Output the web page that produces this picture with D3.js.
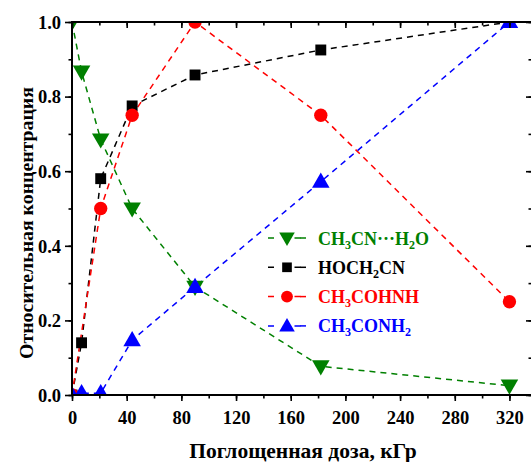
<!DOCTYPE html>
<html><head><meta charset="utf-8">
<script src="https://cdn.jsdelivr.net/npm/d3@7"></script>
<style>body{margin:0;background:#fff}svg{display:block}text{font-family:"Liberation Serif","Times New Roman",serif;font-weight:bold}</style>
</head><body><svg id="c" width="531" height="462"></svg>
<script>
const doses = [0, 7, 21, 44, 90, 182, 320];
const waterComplex = [1.0, 0.867, 0.685, 0.50, 0.29, 0.077, 0.025];
const hydroxyAcetonitrile = [0.0, 0.14, 0.58, 0.775, 0.858, 0.925, 1.0];
const iminol = [0.0, null, 0.50, 0.75, 1.0, 0.75, 0.25];
const acetamide = [0.0, 0.005, 0.005, 0.147, 0.29, 0.572, 1.0];
const xTicks = [0, 40, 80, 120, 160, 200, 240, 280, 320];
const yTicks = [0.0, 0.2, 0.4, 0.6, 0.8, 1.0];

const series = [
  {name: [["CH"],["3","sub"],["CN···H"],["2","sub"],["O"]], values: waterComplex, color: "#008000", shape: "tri-down"},
  {name: [["HOCH"],["2","sub"],["CN"]], values: hydroxyAcetonitrile, color: "#000000", shape: "square"},
  {name: [["CH"],["3","sub"],["COHNH"]], values: iminol, color: "#ff0000", shape: "circle"},
  {name: [["CH"],["3","sub"],["CONH"],["2","sub"]], values: acetamide, color: "#0000ff", shape: "tri-up"}
];

const L = 72, R = 532, T = 22, B = 395;
const svg = d3.select("#c");
const x = d3.scaleLinear().domain([0, 336.5]).range([L, R]);
const y = d3.scaleLinear().domain([0, 1]).range([B, T]);

svg.append("defs").append("clipPath").attr("id","clip")
  .append("rect").attr("x", L).attr("y", T).attr("width", R - L).attr("height", B - T);

function symbolFor(shape, size) {
  if (shape === "square") return d3.symbol().type(d3.symbolSquare).size(size * 0.85)();
  if (shape === "circle") return d3.symbol().type(d3.symbolCircle).size(size)();
  return d3.symbol().type(d3.symbolTriangle).size(size * 0.95)();
}

const plot = svg.append("g").attr("clip-path", "url(#clip)");
series.forEach(s => {
  const pts = doses.map((d, i) => ({d, v: s.values[i]})).filter(p => p.v !== null);
  plot.append("path").datum(pts)
    .attr("d", d3.line().x(p => x(p.d)).y(p => y(p.v)))
    .attr("fill", "none").attr("stroke", s.color).attr("stroke-width", 1.5)
    .attr("stroke-dasharray", "6,5");
});
series.forEach(s => {
  const pts = doses.map((d, i) => ({d, v: s.values[i]})).filter(p => p.v !== null);
  plot.selectAll(null).data(pts).enter().append("path")
    .attr("d", symbolFor(s.shape, 140))
    .attr("transform", p => `translate(${x(p.d)},${y(p.v) + (s.shape==="tri-down"?-1:s.shape==="tri-up"?1:0)}) rotate(${s.shape==="tri-down"?180:0})`)
    .attr("fill", s.color);
});

// axes
const xMinor = d3.range(0, 337, 20);
const yMinor = d3.range(0, 1.0001, 0.1);
const ax = svg.append("g");
ax.append("g").attr("transform", `translate(0,${B})`).call(d3.axisBottom(x).tickValues(xMinor).tickSize(3.5).tickFormat(""));
const bg = ax.append("g").attr("transform", `translate(0,${B})`).call(d3.axisBottom(x).tickValues(xTicks).tickSize(6).tickFormat(d3.format("d")));
bg.selectAll("text").attr("font-size", 18.5).attr("fill", "#000").attr("dy", null).attr("y", 29);
ax.append("g").attr("transform", `translate(0,${T})`).call(d3.axisBottom(x).tickValues(xMinor).tickSize(3.5).tickFormat(""));
ax.append("g").attr("transform", `translate(0,${T})`).call(d3.axisBottom(x).tickValues(xTicks).tickSize(6).tickFormat(""));
ax.append("g").attr("transform", `translate(${L},0)`).call(d3.axisLeft(y).tickValues(yMinor).tickSize(3.5).tickFormat(""));
const lg = ax.append("g").attr("transform", `translate(${L},0)`).call(d3.axisLeft(y).tickValues(yTicks).tickSize(7).tickFormat(d3.format(".1f")));
lg.selectAll("text").attr("font-size", 18.5).attr("fill", "#000").attr("x", -11).attr("dy", "0.34em");
ax.append("g").attr("transform", `translate(${R},0)`).call(d3.axisLeft(y).tickValues(yMinor).tickSize(3.5).tickFormat(""));
ax.append("g").attr("transform", `translate(${R},0)`).call(d3.axisLeft(y).tickValues(yTicks).tickSize(6).tickFormat(""));
ax.selectAll(".tick line").attr("stroke", "#000").attr("stroke-width", 1.6);
ax.selectAll(".domain").remove();
ax.append("rect").attr("x", L).attr("y", T).attr("width", R - L).attr("height", B - T)
  .attr("fill", "none").attr("stroke", "#000").attr("stroke-width", 2);

// titles
svg.append("text").attr("x", 303).attr("y", 458).attr("text-anchor", "middle")
  .attr("font-size", 21.5).text("Поглощенная доза, кГр");
svg.append("text").attr("transform", "translate(33,223) rotate(-90)").attr("text-anchor", "middle")
  .attr("font-size", 19.8).text("Относительная концентрация");

// legend
const legY0 = 238, legDy = 29.3;
series.forEach((s, i) => {
  const g = svg.append("g").attr("transform", `translate(0,${legY0 + i * legDy})`);
  g.append("line").attr("x1", 268).attr("x2", 306).attr("y1", 0).attr("y2", 0)
    .attr("stroke", s.color).attr("stroke-width", 1.5).attr("stroke-dasharray", "6,20.5");
  g.append("line").attr("x1", 300).attr("x2", 306).attr("y1", 0).attr("y2", 0)
    .attr("stroke", s.color).attr("stroke-width", 1.5);
  g.append("path").attr("d", symbolFor(s.shape, 110))
    .attr("transform", `translate(287,${s.shape==="tri-down"?-1:s.shape==="tri-up"?1:0}) rotate(${s.shape==="tri-down"?180:0})`)
    .attr("fill", s.color);
  const t = g.append("text").attr("x", 318).attr("y", 6.5).attr("font-size", 18).attr("fill", s.color);
  s.name.forEach(([str, kind]) => {
    const ts = t.append("tspan").text(str);
    if (kind === "sub") ts.attr("font-size", 12).attr("dy", 4);
    else ts.attr("dy", t.selectAll("tspan").size() > 1 ? -4 : 0);
  });
});
</script></body></html>
